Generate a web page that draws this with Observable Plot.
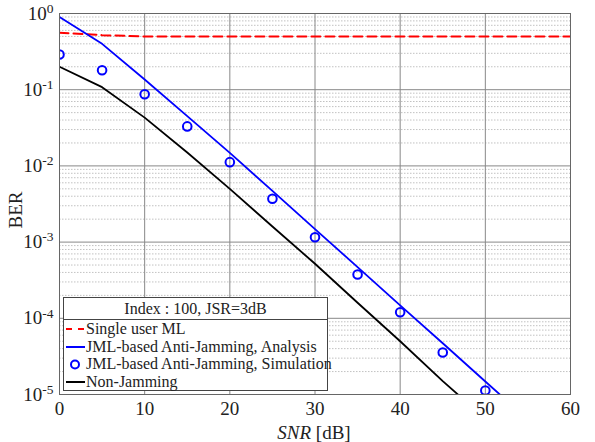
<!DOCTYPE html>
<html>
<head>
<meta charset="utf-8">
<script src="https://cdn.jsdelivr.net/npm/d3@7"></script>
<script src="https://cdn.jsdelivr.net/npm/@observablehq/plot@0.6"></script>
<style>
  body { margin: 0; background: #fff; }
  #wrap { position: relative; width: 595px; height: 442px; font-family: "Liberation Serif", serif; }
  #legend { position: absolute; left: 63px; top: 297px; width: 265px; height: 94px; border: 1px solid #444; background: #fff; font-size: 16px; color: #222; box-sizing: border-box; }
  #legend .title { text-align: center; height: 21px; line-height: 21px; border-bottom: 1px solid #444; }
  #legend .row { position: relative; height: 17.5px; line-height: 17.5px; padding-left: 22px; white-space: nowrap; }
  #legend svg { position: absolute; left: 0; top: 0; }
</style>
</head>
<body>
<div id="wrap"></div>
<script>
const snr = [0, 5, 10, 15, 20, 25, 30, 35, 40, 45, 50, 55, 60];
const singleUserML = [0.56, 0.52, 0.50, 0.50, 0.50, 0.50, 0.50, 0.50, 0.50, 0.50, 0.50, 0.50, 0.50];
const jmlAnalysis = [0.90, 0.40, 0.136, 0.045, 0.0148, 0.0047, 0.00148, 0.00047, 0.000148, 0.000047, 0.0000148, 0.0000047, 0.0000015];
const simSnr = [0, 5, 10, 15, 20, 25, 30, 35, 40, 45, 50];
const jmlSimulation = [0.29, 0.18, 0.087, 0.033, 0.0112, 0.0037, 0.00116, 0.000376, 0.00012, 0.0000355, 0.0000113];
const nonJamming = [0.20, 0.108, 0.043, 0.015, 0.005, 0.0016, 0.00052, 0.00016, 0.00005, 0.000015, 0.0000048, 0.0000015, 0.0000005];
const xTicks = [0, 10, 20, 30, 40, 50, 60];
const yMajor = [1e-5, 1e-4, 1e-3, 1e-2, 1e-1, 1];
const yMinor = [];
for (let e = -5; e < 0; e++) for (let m = 2; m <= 9; m++) yMinor.push(m * Math.pow(10, e));
const legendTitle = "Index : 100, JSR=3dB";
const seriesNames = ["Single user ML", "JML-based Anti-Jamming, Analysis", "JML-based Anti-Jamming, Simulation", "Non-Jamming"];

const lineData = (ys, xs = snr) => xs.map((x, i) => ({x, y: ys[i]}));

const plot = Plot.plot({
  width: 595,
  height: 442,
  marginLeft: 59,
  marginRight: 25,
  marginTop: 13,
  marginBottom: 48,
  style: {fontFamily: "Liberation Serif, serif", fontSize: "19px", color: "#222", background: "#fff"},
  x: {domain: [0, 60], ticks: xTicks, tickSize: 0, tickPadding: 7, label: null},
  y: {type: "log", domain: [1e-5, 1], ticks: yMajor, tickSize: 0, tickPadding: 6, label: null,
      tickFormat: d => "10^" + Math.round(Math.log10(d))},
  marks: [
    Plot.ruleY(yMinor, {stroke: "#999", strokeWidth: 0.6, strokeDasharray: "1.5,1.5"}),
    Plot.ruleY(yMajor, {stroke: "#888", strokeWidth: 1}),
    Plot.ruleX(xTicks, {stroke: "#888", strokeWidth: 1}),
    Plot.line(lineData(singleUserML), {x: "x", y: "y", stroke: "#ff0000", strokeWidth: 2, strokeDasharray: "9,5", clip: true}),
    Plot.line(lineData(jmlAnalysis), {x: "x", y: "y", stroke: "#0000ff", strokeWidth: 1.8, clip: true}),
    Plot.line(lineData(nonJamming), {x: "x", y: "y", stroke: "#000", strokeWidth: 1.8, clip: true}),
    Plot.dot(lineData(jmlSimulation, simSnr), {x: "x", y: "y", r: 4.3, stroke: "#0000ff", strokeWidth: 2, fill: "none", clip: true}),
    Plot.frame({stroke: "#666", strokeWidth: 1})
  ]
});

const svg = d3.select(plot);

// superscript exponents on y tick labels
svg.selectAll("g[aria-label='y-axis tick label'] text").each(function() {
  const t = d3.select(this);
  const s = t.text();
  const [b, e] = s.split("^");
  t.text(null);
  t.append("tspan").text(b);
  t.append("tspan").attr("dy", "-0.5em").style("font-size", "13.5px").text(e);
});

// axis labels
svg.append("text").attr("x", 22).attr("y", 210).attr("transform", "rotate(-90,22,210)")
  .attr("text-anchor", "middle").style("font-size", "19px").attr("fill", "#222").text("BER");
const xl = svg.append("text").attr("x", 314).attr("y", 439).attr("text-anchor", "middle").style("font-size", "19px").attr("fill", "#222");
xl.append("tspan").attr("font-style", "italic").text("SNR");
xl.append("tspan").text(" [dB]");

const wrap = document.getElementById("wrap");
wrap.appendChild(plot);

// legend
const leg = document.createElement("div");
leg.id = "legend";
const swatches = [
  '<svg width="22" height="18"><line x1="2" y1="9" x2="21" y2="9" stroke="#ff0000" stroke-width="2" stroke-dasharray="6,6"/></svg>',
  '<svg width="22" height="18"><line x1="2" y1="9" x2="21" y2="9" stroke="#0000ff" stroke-width="2"/></svg>',
  '<svg width="22" height="18"><circle cx="11" cy="9.5" r="4" stroke="#0000ff" stroke-width="2" fill="none"/></svg>',
  '<svg width="22" height="18"><line x1="2" y1="9" x2="21" y2="9" stroke="#000" stroke-width="2"/></svg>'
];
let html = '<div class="title">' + legendTitle + '</div>';
seriesNames.forEach((n, i) => { html += '<div class="row">' + swatches[i] + n + '</div>'; });
leg.innerHTML = html;
wrap.appendChild(leg);
</script>
</body>
</html>
